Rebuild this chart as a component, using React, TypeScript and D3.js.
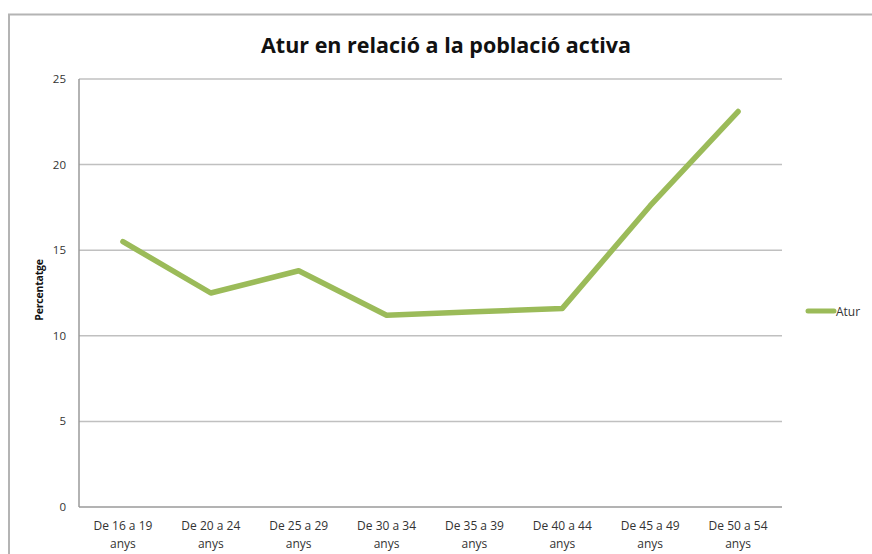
import React from "react";
import * as d3 from "d3";

const categories = [
  "De 16 a 19 anys",
  "De 20 a 24 anys",
  "De 25 a 29 anys",
  "De 30 a 34 anys",
  "De 35 a 39 anys",
  "De 40 a 44 anys",
  "De 45 a 49 anys",
  "De 50 a 54 anys",
];
const aturValues = [15.5, 12.5, 13.8, 11.2, 11.4, 11.6, 17.6, 23.1];
const yTicks = [0, 5, 10, 15, 20, 25];
const seriesName = "Atur";
const title = "Atur en relació a la població activa";
const yTitle = "Percentatge";

const W = 872;
const H = 554;
const plot = { left: 79, right: 782, top: 79, bottom: 507 };
const FONT = "'Open Sans', Lato, 'Liberation Sans', sans-serif";
const GREEN = "#9BBB59";

export default function App() {
  const x = d3
    .scaleBand<string>()
    .domain(categories)
    .range([plot.left, plot.right]);
  const y = d3.scaleLinear().domain([0, 25]).range([plot.bottom, plot.top]);
  const line = d3
    .line<number>()
    .x((_, i) => (x(categories[i]) as number) + x.bandwidth() / 2)
    .y((d) => y(d));

  return (
    <svg
      width={W}
      height={H}
      style={{ position: "absolute", left: 0, top: 0, background: "#fff" }}
      fontFamily={FONT}
    >
      <rect x={0} y={0} width={W} height={H} fill="#fff" />
      {/* outer frame */}
      <path
        d={`M9,${H + 5} L9,14.5 L${W + 5},14.5`}
        fill="none"
        stroke="#b4b4b4"
        strokeWidth={2}
      />
      {/* gridlines */}
      {yTicks.map((t) => (
        <line
          key={t}
          x1={plot.left}
          x2={plot.right}
          y1={y(t)}
          y2={y(t)}
          stroke={t === 0 ? "#9a9a9a" : "#c0c0c0"}
          strokeWidth={1.5}
        />
      ))}
      <line
        x1={plot.left}
        x2={plot.left}
        y1={plot.top}
        y2={plot.bottom}
        stroke="#9a9a9a"
        strokeWidth={1.5}
      />
      {/* y tick labels */}
      {yTicks.map((t) => (
        <text
          key={t}
          x={66}
          y={y(t) + 4}
          textAnchor="end"
          fontSize={11.5}
          fill="#333"
        >
          {t}
        </text>
      ))}
      {/* y title */}
      <text
        transform={`translate(43, 290) rotate(-90)`}
        textAnchor="middle"
        fontSize={10.5}
        fontWeight="bold"
        fill="#111"
        letterSpacing={-0.2}
      >
        {yTitle}
      </text>
      {/* x labels */}
      {categories.map((c) => {
        const cx = (x(c) as number) + x.bandwidth() / 2;
        const parts = c.split(" anys");
        return (
          <text key={c} x={cx} textAnchor="middle" fontSize={12} fill="#333">
            <tspan x={cx} y={530}>
              {parts[0]}
            </tspan>
            <tspan x={cx} y={548}>
              anys
            </tspan>
          </text>
        );
      })}
      {/* line */}
      <path
        d={line(aturValues) || ""}
        fill="none"
        stroke={GREEN}
        strokeWidth={5.5}
        strokeLinejoin="round"
        strokeLinecap="round"
      />
      {/* title */}
      <text
        x={446}
        y={53}
        textAnchor="middle"
        fontSize={21.5}
        fontWeight="bold"
        fill="#111"
      >
        {title}
      </text>
      {/* legend */}
      <line
        x1={808}
        x2={834}
        y1={311}
        y2={311}
        stroke={GREEN}
        strokeWidth={5}
        strokeLinecap="round"
      />
      <text x={836} y={315.5} fontSize={12} fill="#333">
        {seriesName}
      </text>
    </svg>
  );
}
